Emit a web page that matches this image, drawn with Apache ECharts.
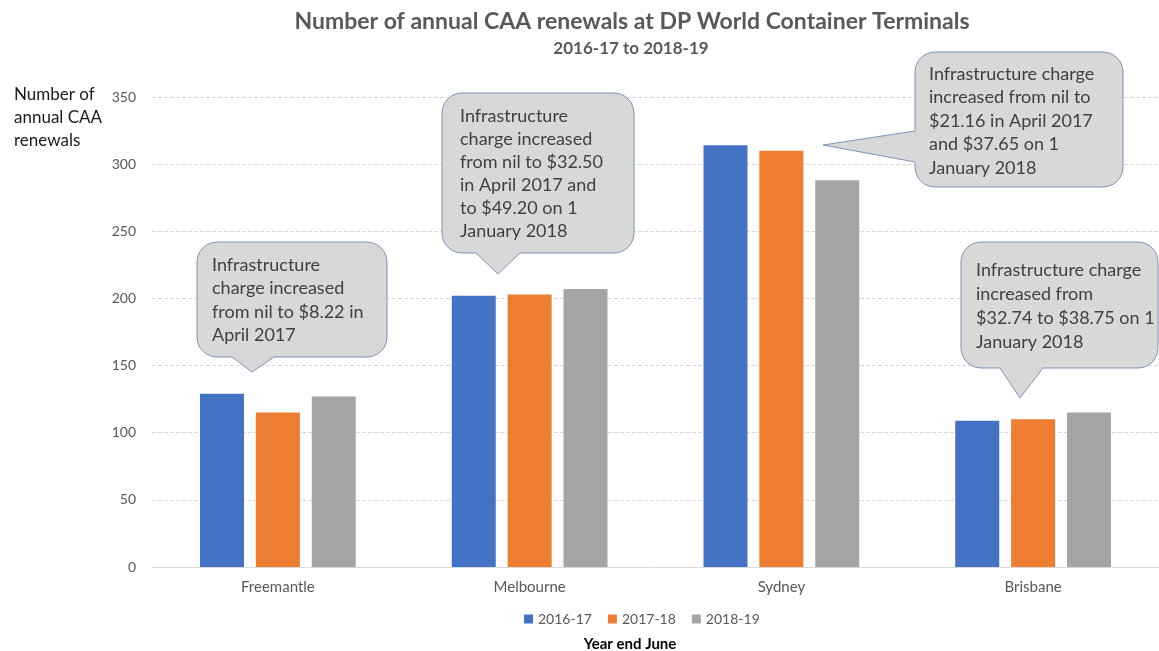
<!DOCTYPE html>
<html>
<head>
<meta charset="utf-8">
<script src="https://cdn.jsdelivr.net/npm/echarts@6/dist/echarts.min.js"></script>
<style>
  html, body { margin: 0; padding: 0; background: #fff; }
  #main { width: 1159px; height: 651px; }
</style>
</head>
<body>
<div id="main"></div>
<script>
// chart data
var categories = ['Freemantle', 'Melbourne', 'Sydney', 'Brisbane'];
var seriesNames = ['2016-17', '2017-18', '2018-19'];
var y1617 = [129, 202, 314, 109];
var y1718 = [115, 203, 310, 110];
var y1819 = [127, 207, 288, 115];
var yTicks = [0, 50, 100, 150, 200, 250, 300, 350];

// callout texts (one per terminal)
var notes = [
    'Infrastructure\ncharge increased\nfrom nil to $8.22 in\nApril 2017',
    'Infrastructure\ncharge increased\nfrom nil to $32.50\nin April 2017 and\nto $49.20 on 1\nJanuary 2018',
    'Infrastructure charge\nincreased from nil to\n$21.16 in April 2017\nand $37.65 on 1\nJanuary 2018',
    'Infrastructure charge\nincreased from\n$32.74 to $38.75 on 1\nJanuary 2018'
];

var FONT = 'Lato, "Open Sans", sans-serif';

// points of a quarter circle, for the rounded corners
function corner(cx, cy, r, a0) {
    var pts = [];
    for (var k = 0; k <= 6; k++) {
        var a = (a0 + k * 15) * Math.PI / 180;
        pts.push([cx + r * Math.cos(a), cy + r * Math.sin(a)]);
    }
    return pts;
}

// rounded box with a pointer, as polygon points (clockwise from top-left)
function bubble(b, r) {
    var pts = [];
    pts = pts.concat(corner(b.x0 + r, b.y0 + r, r, 180));
    pts = pts.concat(corner(b.x1 - r, b.y0 + r, r, 270));
    pts = pts.concat(corner(b.x1 - r, b.y1 - r, r, 0));
    if (b.side === 'bottom') {
        pts.push([b.b1, b.y1], [b.tx, b.ty], [b.b0, b.y1]);
    }
    pts = pts.concat(corner(b.x0 + r, b.y1 - r, r, 90));
    if (b.side === 'left') {
        pts.push([b.x0, b.b1], [b.tx, b.ty], [b.x0, b.b0]);
    }
    return pts;
}

var boxes = [
    {x0: 197, y0: 242, x1: 387, y1: 357, side: 'bottom', b0: 232, b1: 274, tx: 252, ty: 372, textX: 212, textY: 253, lh: 23.5},
    {x0: 442, y0: 93, x1: 634, y1: 253, side: 'bottom', b0: 476, b1: 520, tx: 498, ty: 274, textX: 460, textY: 105, lh: 23},
    {x0: 915, y0: 52, x1: 1123, y1: 187, side: 'left', b0: 131, b1: 162, tx: 823, ty: 145, textX: 929, textY: 62, lh: 23.5},
    {x0: 961, y0: 242, x1: 1158, y1: 368, side: 'bottom', b0: 1000, b1: 1043, tx: 1020, ty: 398, textX: 976, textY: 258, lh: 24}
];

var graphics = [];
boxes.forEach(function (b, i) {
    graphics.push({
        type: 'polygon',
        z: 100,
        shape: { points: bubble(b, 20) },
        style: { fill: '#d8d8d8', stroke: '#7b93bb', lineWidth: 1 }
    });
    graphics.push({
        type: 'text',
        z: 101,
        left: b.textX,
        top: b.textY,
        style: {
            text: notes[i],
            font: '18px ' + FONT,
            fill: '#404040',
            lineHeight: b.lh
        }
    });
});

// y-axis caption, top left
graphics.push({
    type: 'text',
    left: 14,
    top: 83,
    style: {
        text: 'Number of\nannual CAA\nrenewals',
        font: '17px ' + FONT,
        fill: '#1a1a1a',
        lineHeight: 23
    }
});

var colors = ['#4472c4', '#ed7d31', '#a5a5a5'];
var values = [y1617, y1718, y1819];

var myChart = echarts.init(document.getElementById('main'));

var option = {
    animation: false,
    color: colors,
    title: [
        {
            text: 'Number of annual CAA renewals at DP World Container Terminals',
            left: 627,
            textAlign: 'center',
            top: 5,
            textStyle: { fontFamily: FONT, fontSize: 23, fontWeight: 'bold', color: '#595959' }
        },
        {
            text: '2016-17 to 2018-19',
            left: 626,
            textAlign: 'center',
            top: 35,
            textStyle: { fontFamily: FONT, fontSize: 17, fontWeight: 'bold', color: '#595959' }
        },
        {
            text: 'Year end June',
            left: 625,
            textAlign: 'center',
            top: 632,
            textStyle: { fontFamily: FONT, fontSize: 15, fontWeight: 'bold', color: '#000' }
        }
    ],
    legend: {
        left: 519,
        top: 607,
        itemWidth: 9,
        itemHeight: 9,
        itemGap: 16,
        icon: 'rect',
        textStyle: { fontFamily: FONT, fontSize: 14, color: '#595959' },
        data: seriesNames
    },
    grid: {
        left: 152,
        top: 97,
        width: 1010,
        height: 470
    },
    xAxis: {
        type: 'category',
        data: categories,
        axisLine: { lineStyle: { color: '#d9d9d9' } },
        axisTick: { show: false },
        axisLabel: { margin: 13, fontFamily: FONT, fontSize: 15, color: '#595959' }
    },
    yAxis: {
        type: 'value',
        min: yTicks[0],
        max: yTicks[yTicks.length - 1],
        interval: 50,
        axisLine: { show: false },
        axisTick: { show: false },
        axisLabel: { margin: 16, fontFamily: FONT, fontSize: 14, color: '#595959' },
        splitLine: { lineStyle: { color: '#d9d9d9', type: 'dashed' } }
    },
    series: seriesNames.map(function (name, i) {
        return {
            name: name,
            type: 'bar',
            barWidth: 44,
            barGap: '27%',
            data: values[i]
        };
    }),
    graphic: graphics
};

myChart.setOption(option);
</script>
</body>
</html>
